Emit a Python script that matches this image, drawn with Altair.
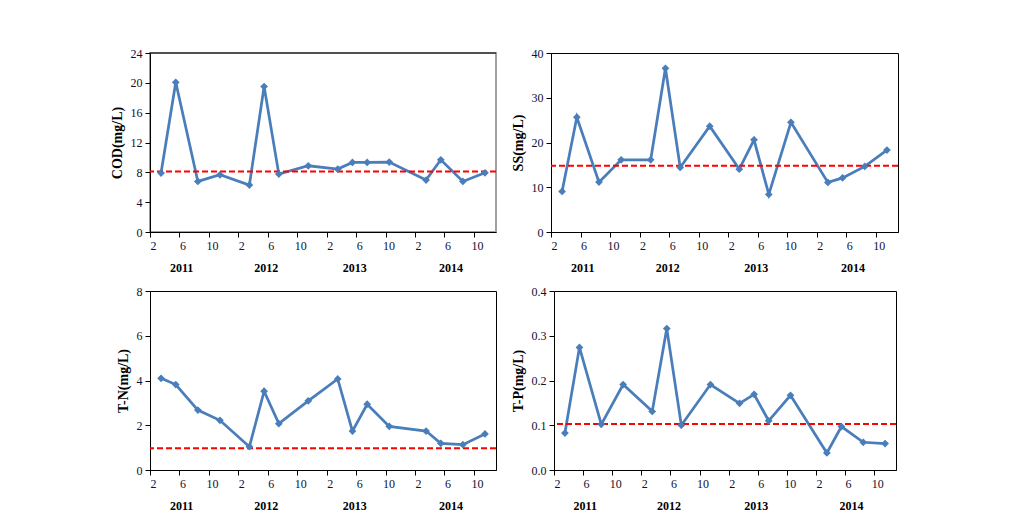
import altair as alt
import pandas as pd

# sampling dates
years = [2011, 2011, 2011, 2011, 2012, 2012, 2012, 2012,
         2013, 2013, 2013, 2013, 2014, 2014, 2014, 2014]
months = [3, 5, 8, 11, 3, 5, 7, 11, 3, 5, 7, 10, 3, 5, 8, 11]

cod = [7.9, 20.07, 6.78, 7.67, 6.29, 19.5, 7.76, 8.88, 8.43, 9.32, 9.32, 9.37, 6.96, 9.68, 6.78, 7.94]
ss = [9.07, 25.65, 11.15, 16.13, 16.13, 36.58, 14.42, 23.64, 14.05, 20.6, 8.4, 24.5, 11.08, 12.1, 14.65, 18.3]
tn = [4.10, 3.82, 2.68, 2.22, 1.04, 3.52, 2.07, 3.09, 4.07, 1.74, 2.94, 1.95, 1.74, 1.19, 1.13, 1.61]
tp = [0.0825, 0.274, 0.102, 0.191, 0.131, 0.316, 0.100, 0.191, 0.149, 0.169, 0.110, 0.167, 0.038, 0.097, 0.062, 0.059]

ref_cod = 8.1
ref_ss = 14.8
ref_tn = 0.97
ref_tp = 0.1026

year_labels = ["2011", "2012", "2013", "2014"]
year_pos = [5.8, 17.3, 29.3, 42.4]   # month index where each year label sits

tick_vals = [1.5 + 4 * i for i in range(12)]

FONT = "Liberation Serif"
W, H = 346, 179
BLUE = "#4A7EBB"

t_index = [(y - 2011) * 12 + m for y, m in zip(years, months)]
xscale = alt.Scale(domain=[1.5, 48.5], nice=False, zero=False)
xaxis = alt.Axis(values=tick_vals, labelExpr="(datum.value - 0.5) % 12 + 1",
                 labelOffset=3, grid=False, title=None, tickSize=5,
                 labelOverlap=False, labelBound=False, labelFlush=False,
                 labelPadding=3, labelFont=FONT, labelFontSize=12,
                 labelColor="#101030", domainColor="#000", tickColor="#000")


def panel(vals, ref, title, ymax, step, fmt, width=W, border="#000", bw=1, top_edge=False):
    df = pd.DataFrame({"t": t_index, "v": vals})
    yvals = [round(step * i, 4) for i in range(int(round(ymax / step)) + 1)]
    yaxis = alt.Axis(values=yvals, format=fmt, grid=False, title=title,
                     labelOverlap=False, labelBound=False, labelFlush=False,
                     tickSize=5, labelPadding=3, labelFont=FONT, labelFontSize=12,
                     labelColor="#101030", titleFont=FONT, titleFontSize=14,
                     titleFontWeight="bold", titleColor="#000", titlePadding=6,
                     domainColor="#000", tickColor="#000")
    base = alt.Chart(df)
    line = base.mark_line(color=BLUE, strokeWidth=2.75).encode(
        x=alt.X("t:Q", scale=xscale, axis=xaxis),
        y=alt.Y("v:Q", scale=alt.Scale(domain=[0, ymax], nice=False), axis=yaxis),
    )
    pts = base.mark_point(shape="diamond", filled=True, size=60, color=BLUE, opacity=1).encode(
        x=alt.X("t:Q", axis=xaxis), y=alt.Y("v:Q", axis=yaxis))
    rule = alt.Chart(pd.DataFrame({"r": [ref]})).mark_rule(
        color="#FF0000", strokeWidth=2, strokeDash=[6, 3]).encode(y=alt.Y("r:Q", axis=yaxis))
    yr = alt.Chart(pd.DataFrame({"t": year_pos, "lab": year_labels})).mark_text(
        font=FONT, fontSize=12, fontWeight="bold", color="#000", baseline="middle").encode(
        x=alt.X("t:Q", axis=xaxis), y=alt.value(H + 36), text="lab:N")
    layers = [line, rule, pts, yr]
    if top_edge:
        layers.append(alt.Chart(pd.DataFrame({"a": [0]})).mark_rule(
            color="#000", strokeWidth=1).encode(y=alt.value(0)))
    return alt.layer(*layers).properties(
        width=width, height=H, view=alt.ViewBackground(stroke=border, strokeWidth=bw))


p1 = panel(cod, ref_cod, "COD(mg/L)", 24, 4, "d", border="#a0a0a0", bw=2, top_edge=True)
p2 = panel(ss, ref_ss, "SS(mg/L)", 40, 10, "d", width=347)
p3 = panel(tn, ref_tn, "T-N(mg/L)", 8, 2, "d")
p4 = panel(tp, ref_tp, "T-P(mg/L)", 0.4, 0.1, ".1f", width=342)

row1 = alt.hconcat(p1, p2, spacing=12)
row2 = alt.hconcat(p3, p4, spacing=12)
chart = alt.vconcat(row1, row2, spacing=9).properties(
    padding={"left": 101, "top": 38, "right": 5, "bottom": 5}
).configure_view(stroke="#000", strokeWidth=1).configure_axis(
    labelOverlap=False, labelBound=False
).configure(background="white")

chart.save("out.html", embed_options={"renderer": "svg", "actions": False})
